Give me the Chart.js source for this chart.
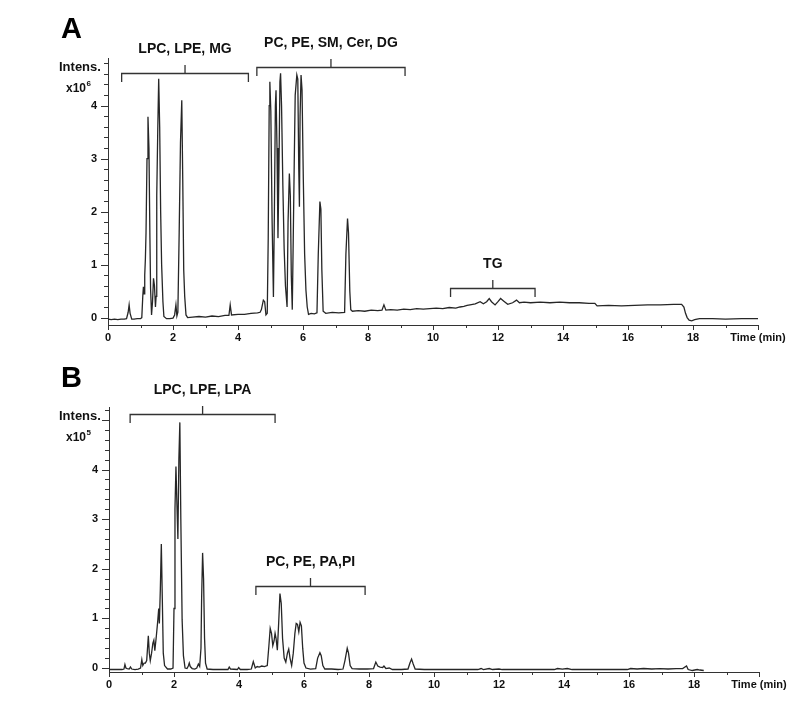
<!DOCTYPE html>
<html><head><meta charset="utf-8">
<script src="https://cdn.jsdelivr.net/npm/chart.js@4/dist/chart.umd.min.js"></script>
<style>
html,body{margin:0;padding:0;background:#fff;width:792px;height:714px;overflow:hidden}
.wrap{position:absolute;left:0;width:792px;height:357px}
canvas{display:block}
</style></head><body>
<div class="wrap" style="top:0"><canvas id="cA" width="792" height="357"></canvas></div>
<div class="wrap" style="top:357px"><canvas id="cB" width="792" height="357"></canvas></div>
<script>
// ---------- DATA ----------
// Panel A: retention time (min) and intensity (x10^6)
const timeA = [
0,0.1,0.2,0.3,0.4,0.5,0.57,0.62,0.65,0.68,
0.73,0.8,0.9,1.0,1.04,1.07,1.09,1.11,1.13,1.15,
1.17,1.2,1.23,1.26,1.29,1.31,1.34,1.37,1.4,1.43,
1.46,1.48,1.5,1.53,1.56,1.59,1.62,1.65,1.69,1.72,
1.8,1.9,2.0,2.05,2.09,2.12,2.15,2.19,2.23,2.27,
2.3,2.33,2.36,2.4,2.45,2.6,2.8,3.0,3.2,3.4,
3.6,3.72,3.76,3.8,4.0,4.2,4.4,4.6,4.68,4.72,
4.78,4.82,4.86,4.9,4.93,4.96,4.98,5.01,5.05,5.09,
5.12,5.15,5.17,5.2,5.23,5.26,5.29,5.31,5.34,5.38,
5.42,5.46,5.51,5.54,5.58,5.61,5.64,5.67,5.7,5.73,
5.76,5.81,5.84,5.87,5.89,5.91,5.94,5.97,6.01,6.05,
6.09,6.13,6.17,6.25,6.35,6.43,6.47,6.52,6.55,6.58,
6.62,6.7,6.9,7.1,7.28,7.32,7.37,7.4,7.44,7.47,
7.52,7.7,7.9,8.1,8.3,8.43,8.49,8.55,8.7,8.9,
9.1,9.3,9.5,9.7,9.9,10.1,10.3,10.5,10.7,10.83,
10.95,11.05,11.14,11.3,11.45,11.55,11.65,11.73,11.8,11.91,
12.0,12.08,12.18,12.3,12.45,12.57,12.66,12.8,13.0,13.3,
13.6,13.9,14.2,14.5,14.8,14.98,15.05,15.4,15.8,16.2,
16.6,17.0,17.4,17.65,17.72,17.77,17.82,17.88,17.96,18.05,
18.2,18.6,19.0,19.5,20.0
];
const intensA = [
-0.03,-0.04,-0.03,-0.04,-0.03,-0.03,-0.02,0.10,0.24,0.08,
-0.03,-0.03,-0.02,-0.02,0.00,0.40,0.58,0.45,0.80,1.10,
1.60,3.00,3.79,3.20,1.50,0.55,0.05,0.30,0.74,0.60,
0.20,0.40,2.30,3.50,4.51,3.60,2.00,1.00,0.30,0.02,
-0.02,-0.02,-0.01,0.05,0.24,0.03,0.10,1.60,3.30,4.10,
2.60,0.90,0.40,0.05,0.00,0.01,0.02,0.01,0.03,0.02,
0.04,0.04,0.24,0.05,0.06,0.06,0.08,0.09,0.10,0.15,
0.33,0.30,0.05,0.08,1.50,4.00,4.45,3.90,1.80,0.39,
2.00,4.00,4.29,3.20,1.50,2.80,4.45,4.61,4.00,2.50,
1.30,0.60,0.20,1.80,2.72,2.30,0.80,0.15,1.50,2.90,
4.20,4.58,4.50,2.80,2.09,3.80,4.58,4.30,2.60,1.20,
0.52,0.20,0.06,0.08,0.07,0.09,1.20,2.19,2.05,0.90,
0.12,0.08,0.10,0.09,0.10,1.20,1.87,1.60,0.50,0.15,
0.12,0.13,0.12,0.14,0.13,0.14,0.24,0.14,0.15,0.14,
0.16,0.15,0.17,0.16,0.17,0.18,0.17,0.19,0.18,0.20,
0.21,0.23,0.24,0.26,0.30,0.26,0.30,0.36,0.30,0.24,
0.30,0.36,0.31,0.25,0.28,0.33,0.28,0.29,0.28,0.29,
0.28,0.29,0.28,0.28,0.27,0.27,0.22,0.23,0.22,0.23,
0.24,0.24,0.25,0.25,0.20,0.08,0.00,-0.05,-0.06,-0.04,
-0.02,-0.02,-0.03,-0.02,-0.02
];

// Panel B: retention time (min) and intensity (x10^5)
const timeB = [
0,0.2,0.4,0.46,0.49,0.52,0.56,0.62,0.66,0.7,
0.8,0.9,0.97,1.01,1.04,1.08,1.12,1.16,1.19,1.21,
1.24,1.27,1.31,1.35,1.38,1.41,1.45,1.5,1.53,1.55,
1.58,1.61,1.64,1.67,1.71,1.8,1.9,1.97,2.0,2.03,
2.06,2.09,2.12,2.15,2.18,2.21,2.25,2.29,2.34,2.4,
2.44,2.47,2.5,2.56,2.64,2.7,2.75,2.79,2.83,2.85,
2.88,2.91,2.94,2.97,3.02,3.2,3.45,3.66,3.7,3.74,
3.95,3.99,4.04,4.25,4.38,4.44,4.5,4.56,4.62,4.7,
4.78,4.87,4.92,4.96,5.0,5.04,5.08,5.11,5.14,5.18,
5.22,5.26,5.3,5.34,5.39,5.44,5.49,5.53,5.57,5.62,
5.67,5.72,5.76,5.8,5.84,5.88,5.92,5.96,6.0,6.06,
6.2,6.36,6.42,6.49,6.53,6.58,6.64,6.85,7.05,7.2,
7.26,7.33,7.37,7.42,7.48,7.7,7.95,8.14,8.21,8.27,
8.34,8.42,8.46,8.52,8.62,8.72,9.0,9.2,9.26,9.31,
9.36,9.42,9.7,10.2,10.8,11.35,11.45,11.52,11.7,11.8,
12.0,12.1,12.6,13.2,13.7,13.8,13.95,14.1,14.25,14.8,
15.5,15.95,16.05,16.25,16.45,16.7,16.95,17.2,17.45,17.65,
17.77,17.82,17.95,18.1,18.18,18.3
];
const intensB = [
-0.03,-0.03,-0.03,-0.02,0.07,0.00,-0.01,-0.02,0.02,-0.02,
-0.03,-0.02,0.00,0.17,0.05,0.10,0.10,0.15,0.45,0.65,
0.30,0.15,0.30,0.50,0.56,0.35,0.60,0.95,1.20,0.90,
1.60,2.50,1.40,0.30,0.05,-0.02,-0.02,0.00,1.20,3.20,
4.06,3.30,2.60,4.20,4.95,3.00,0.97,0.25,0.00,-0.01,
0.04,0.10,0.03,-0.01,-0.02,0.00,0.08,0.03,0.40,1.40,
2.32,1.80,0.60,0.10,-0.02,-0.03,-0.03,-0.03,0.02,-0.02,
-0.03,0.01,-0.03,-0.03,-0.02,0.13,0.00,0.03,0.02,0.04,
0.03,0.05,0.45,0.80,0.70,0.45,0.55,0.70,0.60,0.36,
0.90,1.50,1.30,0.60,0.20,0.12,0.30,0.38,0.20,0.05,
0.30,0.70,0.90,0.88,0.73,0.92,0.85,0.40,0.10,0.00,
-0.02,-0.01,0.20,0.31,0.25,0.05,-0.02,-0.02,-0.03,-0.02,
0.15,0.40,0.30,0.05,-0.01,-0.02,-0.02,-0.01,0.12,0.04,
0.02,0.01,0.04,-0.01,0.00,-0.03,-0.03,-0.02,0.10,0.18,
0.08,-0.02,-0.03,-0.03,-0.03,-0.03,-0.01,-0.03,-0.01,-0.03,
-0.02,-0.03,-0.03,-0.03,-0.03,-0.01,-0.02,-0.01,-0.03,-0.03,
-0.03,-0.03,-0.01,-0.02,-0.01,-0.02,-0.01,-0.02,-0.01,-0.01,
0.04,-0.03,-0.05,-0.03,-0.04,-0.05
];

// Axis tick values
const xTickValues = [0,1,2,3,4,5,6,7,8,9,10,11,12,13,14,15,16,17,18,19,20];
const xAxisTitle = 'Time (min)';
const yMajorLabels = [0,1,2,3,4];

// Annotation brackets (time ranges in min, level in intensity units)
const bracketLabelsA = ['LPC, LPE, MG', 'PC, PE, SM, Cer, DG', 'TG'];
const bracketFromA   = [0.42, 4.58, 10.54];
const bracketToA     = [4.32, 9.14, 13.14];
const bracketLevelA  = [4.62, 4.73, 0.55];

const bracketLabelsB = ['LPC, LPE, LPA', 'PC, PE, PA,PI'];
const bracketFromB   = [0.65, 4.52];
const bracketToB     = [5.11, 7.88];
const bracketLevelB  = [5.11, 1.66];

// ---------- RENDERING ----------
const FONT = '"Liberation Sans", Arial, Helvetica, sans-serif';
Chart.defaults.font.family = FONT;

const decorPlugin = {
  id: 'decor',
  afterDraw(chart, args, o) {
    const ctx = chart.ctx, xs = chart.scales.x, ys = chart.scales.y, ca = chart.chartArea;
    ctx.save();
    ctx.strokeStyle = '#333'; ctx.lineWidth = 1;
    // y ticks
    ys.ticks.forEach(t => {
      const p = Math.round(ys.getPixelForValue(t.value)) + 0.5;
      const major = Math.abs(t.value - Math.round(t.value)) < 1e-6;
      const len = major ? 7 : 4;
      ctx.beginPath(); ctx.moveTo(ca.left - len, p); ctx.lineTo(ca.left, p); ctx.stroke();
    });
    // x ticks
    xs.ticks.forEach(t => {
      const p = Math.round(xs.getPixelForValue(t.value)) + 0.5;
      const len = (t.value % 2 === 0) ? 5 : 3;
      ctx.beginPath(); ctx.moveTo(p, ca.bottom); ctx.lineTo(p, ca.bottom + len); ctx.stroke();
    });
    // panel letter and y title
    ctx.fillStyle = '#000';
    ctx.textAlign = 'left'; ctx.textBaseline = 'alphabetic';
    ctx.font = 'bold 29px ' + FONT;
    ctx.fillText(o.letter, 61, o.letterY);
    ctx.fillStyle = '#111';
    ctx.font = 'bold 13px ' + FONT;
    ctx.fillText('Intens.', 59, o.intY);
    ctx.font = 'bold 12px ' + FONT;
    ctx.fillText('x10', 66, o.expY);
    const w = ctx.measureText('x10').width;
    ctx.font = 'bold 8px ' + FONT;
    ctx.fillText(o.exp, 66 + w + 0.5, o.expY - 6);
    // brackets
    ctx.strokeStyle = '#333'; ctx.lineWidth = 1.3;
    ctx.font = 'bold 14px ' + FONT; ctx.textAlign = 'center'; ctx.fillStyle = '#111';
    o.labels.forEach((lab, i) => {
      const x1 = xs.getPixelForValue(o.from[i]), x2 = xs.getPixelForValue(o.to[i]);
      const yy = Math.round(ys.getPixelForValue(o.level[i])) + 0.5;
      const xc = (x1 + x2) / 2;
      ctx.beginPath();
      ctx.moveTo(x1, yy + 8.5); ctx.lineTo(x1, yy); ctx.lineTo(x2, yy); ctx.lineTo(x2, yy + 8.5);
      ctx.moveTo(xc, yy); ctx.lineTo(xc, yy - 8.5);
      ctx.stroke();
      ctx.fillText(lab, xc, yy - 21);
    });
    ctx.restore();
  }
};

function makeChart(id, times, vals, cfg) {
  return new Chart(document.getElementById(id), {
    type: 'line',
    data: { datasets: [{
      data: times.map((t, i) => ({ x: t, y: vals[i] })),
      borderColor: '#262626', borderWidth: 1.3, pointRadius: 0, tension: 0, fill: false
    }]},
    options: {
      responsive: false, animation: false, devicePixelRatio: 1,
      layout: { padding: { left: 0, right: cfg.padRight, top: cfg.padTop, bottom: 0 } },
      plugins: { legend: { display: false }, tooltip: { enabled: false }, decor: cfg.decor },
      scales: {
        x: {
          type: 'linear', min: 0, max: 20,
          afterBuildTicks: s => { s.ticks = xTickValues.map(v => ({ value: v })); },
          afterFit: s => { s.height = cfg.xH; },
          ticks: { autoSkip: false, maxRotation: 0, padding: 1, color: '#111',
                   font: { size: 11, weight: 'bold' },
                   callback: v => v === 20 ? xAxisTitle : (v % 2 === 0 ? String(v) : '') },
          grid: { drawOnChartArea: false, drawTicks: true, tickLength: 5, tickColor: 'rgba(0,0,0,0)' },
          border: { color: '#333', width: 1 }
        },
        y: {
          min: cfg.yMin, max: cfg.yMax,
          afterBuildTicks: s => {
            const arr = [];
            for (let k = 0; k * 0.2 <= cfg.yMax + 1e-9; k++) arr.push({ value: Math.round(k * 2) / 10 });
            s.ticks = arr;
          },
          afterFit: s => { s.width = cfg.yW; },
          ticks: { autoSkip: false, padding: 4, color: '#111', font: { size: 11, weight: 'bold' },
                   callback: v => yMajorLabels.includes(Math.round(v * 10) / 10) ? String(Math.round(v)) : '' },
          grid: { drawOnChartArea: false, drawTicks: true, tickLength: 7, tickColor: 'rgba(0,0,0,0)' },
          border: { color: '#333', width: 1 }
        }
      }
    },
    plugins: [decorPlugin]
  });
}

makeChart('cA', timeA, intensA, {
  padRight: 34, padTop: 58, xH: 32, yW: 108, yMin: -0.14, yMax: 4.9,
  decor: { letter: 'A', letterY: 38, intY: 71, expY: 92, exp: '6',
           labels: bracketLabelsA, from: bracketFromA, to: bracketToA, level: bracketLevelA }
});
makeChart('cB', timeB, intensB, {
  padRight: 33, padTop: 50, xH: 42, yW: 109, yMin: -0.08, yMax: 5.26,
  decor: { letter: 'B', letterY: 30, intY: 63, expY: 84, exp: '5',
           labels: bracketLabelsB, from: bracketFromB, to: bracketToB, level: bracketLevelB }
});
</script>
</body></html>
